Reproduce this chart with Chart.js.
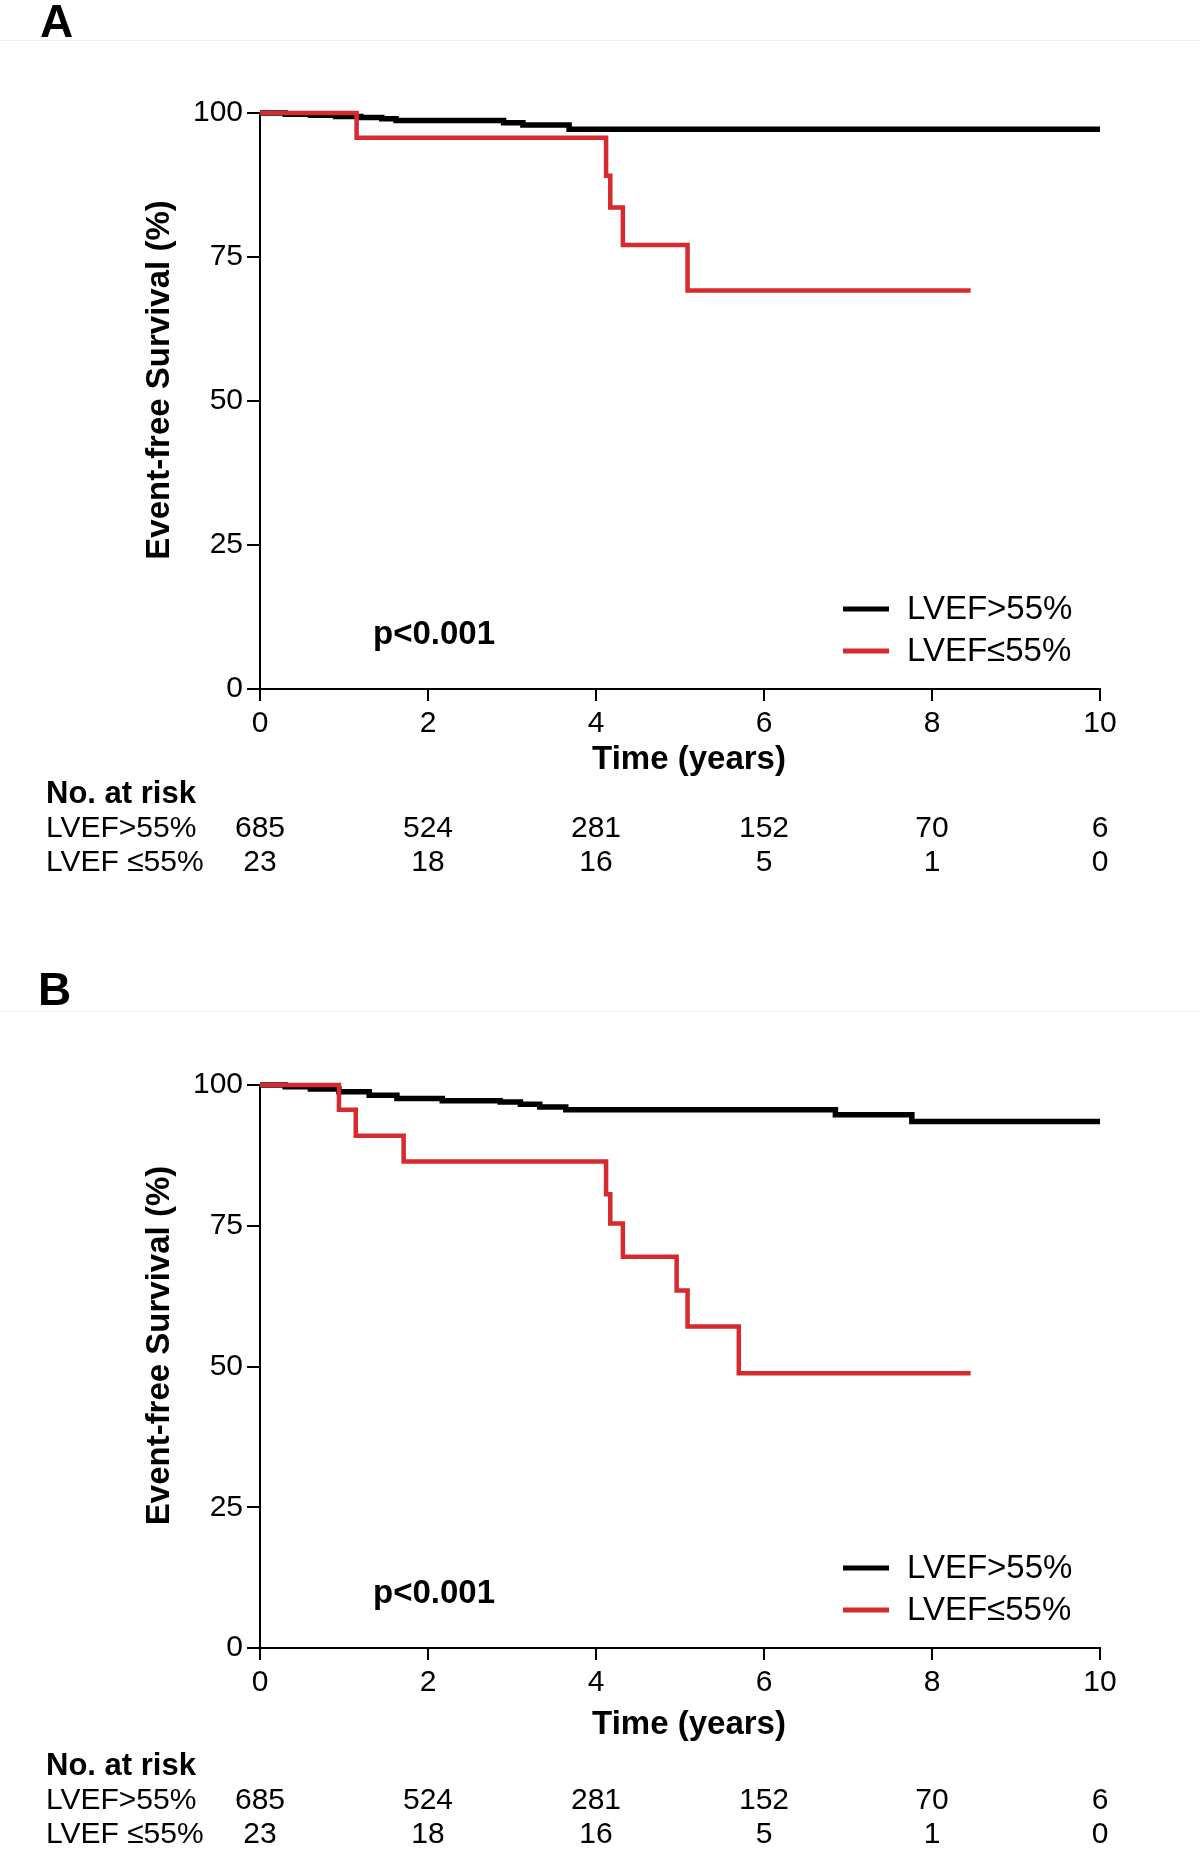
<!DOCTYPE html>
<html>
<head>
<meta charset="utf-8">
<script src="https://cdn.jsdelivr.net/npm/chart.js@4/dist/chart.umd.min.js"></script>
<style>
  body { margin: 0; background: #fff; width: 1200px; height: 1853px; position: relative; overflow: hidden; font-family: "Liberation Sans", Arial, sans-serif; }
  .panel { position: absolute; left: 0; }
  .tag { position: absolute; font-weight: bold; font-size: 46px; line-height: 1; }
  .rule { position: absolute; left: 0; width: 1200px; height: 1px; background: #f0f0f0; }
</style>
</head>
<body>
<div class="panel" style="top:0"><canvas id="chartA" width="1200" height="970"></canvas></div>
<div class="panel" style="top:970px"><canvas id="chartB" width="1200" height="883"></canvas></div>
<div class="rule" style="top:40px"></div>
<div class="rule" style="top:1011px"></div>
<div class="tag" style="left:40px;top:-2px">A</div>
<div class="tag" style="left:38px;top:966px">B</div>

<script>
// ---- data ----
const groupLabels = ["LVEF>55%", "LVEF\u226455%"];
const riskLabels = ["LVEF>55%", "LVEF \u226455%"];
const xTicks = [0, 2, 4, 6, 8, 10];
const yTicks = [0, 25, 50, 75, 100];

// panel A
const timeA_high = [0, 0.3, 0.6, 0.9, 1.2, 1.45, 1.62, 2.9, 3.13, 3.68, 10];
const survA_high = [100, 99.8, 99.6, 99.4, 99.2, 99.0, 98.7, 98.3, 97.9, 97.2, 97.2];
const timeA_low = [0, 1.15, 4.12, 4.17, 4.32, 5.09, 8.46];
const survA_low = [100, 95.7, 89.1, 83.6, 77.1, 69.2, 69.2];

// panel B
const timeB_high = [0, 0.3, 0.6, 0.94, 1.3, 1.63, 2.17, 2.86, 3.1, 3.33, 3.64, 6.85, 7.76, 10];
const survB_high = [100, 99.7, 99.3, 98.8, 98.2, 97.6, 97.2, 97.0, 96.6, 96.1, 95.6, 94.7, 93.5, 93.5];
const timeB_low = [0, 0.94, 1.14, 1.71, 4.12, 4.17, 4.32, 4.96, 5.09, 5.70, 8.46];
const survB_low = [100, 95.6, 91.0, 86.4, 80.6, 75.4, 69.5, 63.5, 57.1, 48.8, 48.8];

// numbers at risk (same in both panels)
const riskHigh = [685, 524, 281, 152, 70, 6];
const riskLow = [23, 18, 16, 5, 1, 0];

const BLACK = "#000000";
const RED = "#d62a2e";
const FONT = '"Liberation Sans", Arial, sans-serif';

function toPoints(t, s) {
  return t.map((v, i) => ({ x: v, y: s[i] }));
}

// draws axis title, legend, p value and risk table
const kmExtras = {
  id: "kmExtras",
  afterDraw(chart, args, o) {
    const { ctx, chartArea } = chart;
    const x = chart.scales.x;
    const bottom = chartArea.bottom;
    ctx.save();
    ctx.fillStyle = "#000";
    ctx.textBaseline = "middle";

    // y title
    ctx.save();
    ctx.font = "bold 33px " + FONT;
    ctx.translate(160, (chartArea.top + chartArea.bottom) / 2 - 21);
    ctx.rotate(-Math.PI / 2);
    ctx.textAlign = "center";
    ctx.fillText("Event-free Survival (%)", 0, 0);
    ctx.restore();

    // x title
    ctx.font = "bold 33px " + FONT;
    ctx.textAlign = "center";
    ctx.fillText("Time (years)", 689, bottom + o.xTitle);

    // p value
    ctx.fillText("p<0.001", 434, bottom - 54);

    // legend
    ctx.font = "33px " + FONT;
    ctx.textAlign = "left";
    const cols = [BLACK, RED];
    [bottom - 80, bottom - 38].forEach((yy, i) => {
      ctx.strokeStyle = cols[i];
      ctx.lineWidth = 5;
      ctx.beginPath();
      ctx.moveTo(843, yy);
      ctx.lineTo(889, yy);
      ctx.stroke();
      ctx.fillText(groupLabels[i], 907, yy + 1);
    });

    // risk table
    ctx.font = "bold 31px " + FONT;
    ctx.fillText("No. at risk", 46, bottom + o.risk[0]);
    ctx.font = "30px " + FONT;
    [riskHigh, riskLow].forEach((row, r) => {
      const yy = bottom + o.risk[r + 1];
      ctx.textAlign = "left";
      ctx.fillText(riskLabels[r], 46, yy);
      ctx.textAlign = "center";
      row.forEach((n, i) => ctx.fillText(String(n), x.getPixelForValue(xTicks[i]), yy));
    });
    ctx.restore();
  }
};

function makeChart(id, tHigh, sHigh, tLow, sLow, pad, extras) {
  return new Chart(document.getElementById(id).getContext("2d"), {
    type: "line",
    data: {
      datasets: [
        { label: groupLabels[1], data: toPoints(tLow, sLow), borderColor: RED, borderWidth: 4.5, stepped: true, pointRadius: 0, fill: false, clip: false, order: 0 },
        { label: groupLabels[0], data: toPoints(tHigh, sHigh), borderColor: BLACK, borderWidth: 5.5, stepped: true, pointRadius: 0, fill: false, clip: false, order: 1 }
      ]
    },
    options: {
      responsive: false,
      animation: false,
      layout: { padding: pad },
      plugins: { legend: { display: false }, tooltip: { enabled: false }, kmExtras: extras },
      scales: {
        x: {
          type: "linear", min: 0, max: 10,
          afterFit: s => { s.height = 60; },
          afterBuildTicks: s => { s.ticks = xTicks.map(v => ({ value: v })); },
          grid: { drawOnChartArea: false, drawTicks: true, tickLength: 12, color: "#000", lineWidth: 2 },
          border: { display: true, color: "#000", width: 2 },
          ticks: { color: "#000", font: { family: FONT, size: 30 }, padding: 5, maxRotation: 0 }
        },
        y: {
          min: 0, max: 100,
          afterFit: s => { s.width = 260; },
          afterBuildTicks: s => { s.ticks = yTicks.map(v => ({ value: v })); },
          grid: { drawOnChartArea: false, drawTicks: true, tickLength: 13, color: "#000", lineWidth: 2 },
          border: { display: true, color: "#000", width: 2 },
          ticks: { color: "#000", font: { family: FONT, size: 30 }, padding: 4 }
        }
      }
    },
    plugins: [kmExtras]
  });
}

makeChart("chartA", timeA_high, survA_high, timeA_low, survA_low,
  { left: 0, right: 100, top: 113, bottom: 970 - 689 - 60 },
  { xTitle: 71, risk: [105, 140, 174] });

makeChart("chartB", timeB_high, survB_high, timeB_low, survB_low,
  { left: 0, right: 100, top: 115, bottom: 883 - 678 - 60 },
  { xTitle: 77, risk: [118, 153, 187] });
</script>
</body>
</html>
